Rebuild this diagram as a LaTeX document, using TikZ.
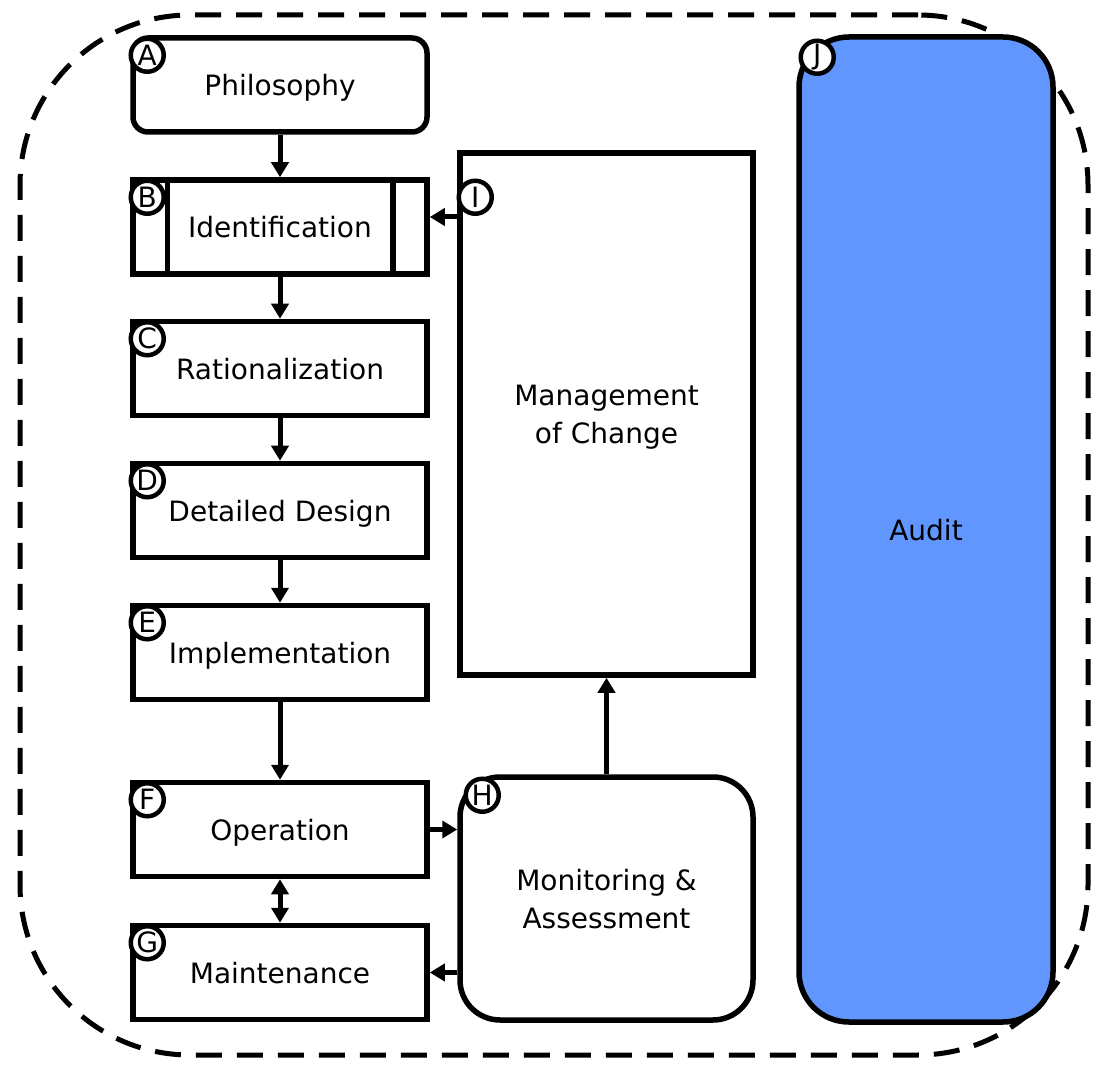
\documentclass[tikz,border=0pt]{standalone}
\usepackage{fontspec}
\setmainfont{DejaVu Sans}
\usetikzlibrary{arrows.meta}
\definecolor{auditblue}{HTML}{6196FF}
\begin{document}
\begin{tikzpicture}[x=1pt,y=-1pt,
  box/.style={draw=black, line width=5.5pt, fill=white, minimum width=294pt, minimum height=94pt, inner sep=0pt, font=\fontsize{28}{38}\selectfont, align=center, text depth=0pt},
  badge/.style={circle, draw=black, line width=4.5pt, fill=white, minimum size=33pt, inner sep=0pt, font=\fontsize{28}{28}\selectfont},
  conn/.style={line width=5pt, -{Triangle[length=15pt,width=17pt]}},
  frame/.style={draw=black, line width=5pt, dash pattern=on 26pt off 15pt, rounded corners=170pt, inner sep=0pt}
]
\useasboundingbox (0,0) rectangle (1096,1067);
\node[frame, minimum width=1068pt, minimum height=1040pt] (outer) at (554,535) {};

\node[box, rounded corners=15pt] (A) at (280,85) {Philosophy};
\node[box] (B) at (280,227) {Identification};
\draw[line width=5.5pt] ([xshift=37pt]B.north west) -- ([xshift=37pt]B.south west);
\draw[line width=5.5pt] ([xshift=-37pt]B.north east) -- ([xshift=-37pt]B.south east);
\node[box] (C) at (280,368.5) {Rationalization};
\node[box] (D) at (280,510.5) {Detailed Design};
\node[box] (E) at (280,652.5) {Implementation};
\node[box] (F) at (280,829.5) {Operation};
\node[box] (G) at (280,972.5) {Maintenance};
\node[box, minimum width=293pt, minimum height=522pt] (I) at (606.5,414) {Management\\of Change};
\node[box, rounded corners=40pt, minimum width=293pt, minimum height=243pt] (H) at (606.5,898.5) {Monitoring \&\\Assessment};
\node[box, rounded corners=50pt, fill=auditblue, minimum width=254pt, minimum height=985pt] (J) at (926,529.5) {Audit};

\node[badge] (bA) at ([xshift=17pt,yshift=-20pt]A.north west) {A};
\node[badge] (bB) at ([xshift=17pt,yshift=-20pt]B.north west) {B};
\node[badge] (bC) at ([xshift=17pt,yshift=-20pt]C.north west) {C};
\node[badge] (bD) at ([xshift=17pt,yshift=-20pt]D.north west) {D};
\node[badge] (bE) at ([xshift=17pt,yshift=-20pt]E.north west) {E};
\node[badge] (bF) at ([xshift=17pt,yshift=-20pt]F.north west) {F};
\node[badge] (bG) at ([xshift=17pt,yshift=-20pt]G.north west) {G};
\node[badge] (bH) at ([xshift=25pt,yshift=-21pt]H.north west) {H};
\node[badge] (bI) at ([xshift=18pt,yshift=-47pt]I.north west) {I};
\node[badge] (bJ) at ([xshift=21pt,yshift=-23pt]J.north west) {J};

\draw[conn] (A) -- (B);
\draw[conn] (B) -- (C);
\draw[conn] (C) -- (D);
\draw[conn] (D) -- (E);
\draw[conn] (E) -- (F);
\draw[line width=5pt, {Triangle[length=15pt,width=17pt]}-{Triangle[length=15pt,width=17pt]}] (F) -- (G);
\draw[conn] (F.east) -- (F.east -| H.west);
\draw[conn] (H.west |- G.east) -- (G.east);
\coordinate (bin) at ([yshift=10pt]B.east);
\draw[conn] (I.west |- bin) -- (bin);
\draw[conn] (H.north) -- (I.south);
\end{tikzpicture}
\end{document}
